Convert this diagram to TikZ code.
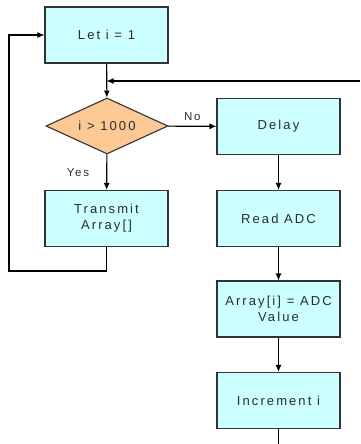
\documentclass[tikz,border=0pt]{standalone}
\usepackage{fontspec}
\setmainfont{Liberation Sans}
\newfontfamily\chartfont[LetterSpace=16]{Liberation Sans}
\usetikzlibrary{shapes.geometric,arrows.meta}
\definecolor{boxfill}{HTML}{CCFFFF}
\definecolor{decfill}{HTML}{FCC995}
\definecolor{edge}{HTML}{333333}
\definecolor{ink}{HTML}{2B2B2B}
\tikzset{
  procbox/.style={draw=edge, line width=1.1pt, fill=boxfill, minimum width=123pt,
    minimum height=56pt, inner sep=0pt, align=center, text=ink,
    font=\chartfont\fontsize{13}{15.8}\selectfont},
  decbox/.style={diamond, draw=edge, line width=1.1pt, fill=decfill, inner sep=0pt,
    minimum width=122pt, minimum height=56pt, aspect=2.18, text=ink,
    font=\chartfont\fontsize{13}{15.8}\selectfont},
  flow/.style={draw=black, line width=1.1pt, -{Latex[length=7pt,width=6pt]}},
  wire/.style={draw=black, line width=1.1pt},
  lbl/.style={text=ink, font=\chartfont\fontsize{11.5}{13}\selectfont, inner sep=0pt}
}
\begin{document}
\begin{tikzpicture}[x=1pt,y=-1pt]
\useasboundingbox (0,0) rectangle (360,444);

% main column
\node[procbox] (init) at (106.5,35) {Let i = 1};
\node[decbox] (test) at (107,126) {i > 1000};
\node[procbox] (send) at (106.5,218.5) {Transmit\\Array[]};

% sampling column
\node[procbox] (wait) at (278.5,126.5) {Delay};
\node[procbox] (read) at (278.5,218.5) {Read ADC};
\node[procbox] (store) at (278.5,309) {Array[i] = ADC\\Value};
\node[procbox] (inc) at (278.5,400.5) {Increment i};

% loop return and exit points
\coordinate (back) at (360,81);
\coordinate (merge) at (init.south |- back);
\coordinate (down) at (inc.south |- 0,444);
\coordinate (lowleft) at (9,271);

\draw[flow] (init) -- (test);
\draw[flow] (back) -- (merge);
\draw[flow] (test) -- node[lbl, above=5pt, pos=0.5] {No} (wait);
\draw[flow] (test) -- node[lbl, left=17pt, pos=0.5] {Yes} (send);
\draw[flow] (wait) -- (read);
\draw[flow] (read) -- (store);
\draw[flow] (store) -- (inc);
\draw[wire] (inc) -- (down);
\draw[flow] (send.south) |- (lowleft) |- (init.west);
\end{tikzpicture}
\end{document}
